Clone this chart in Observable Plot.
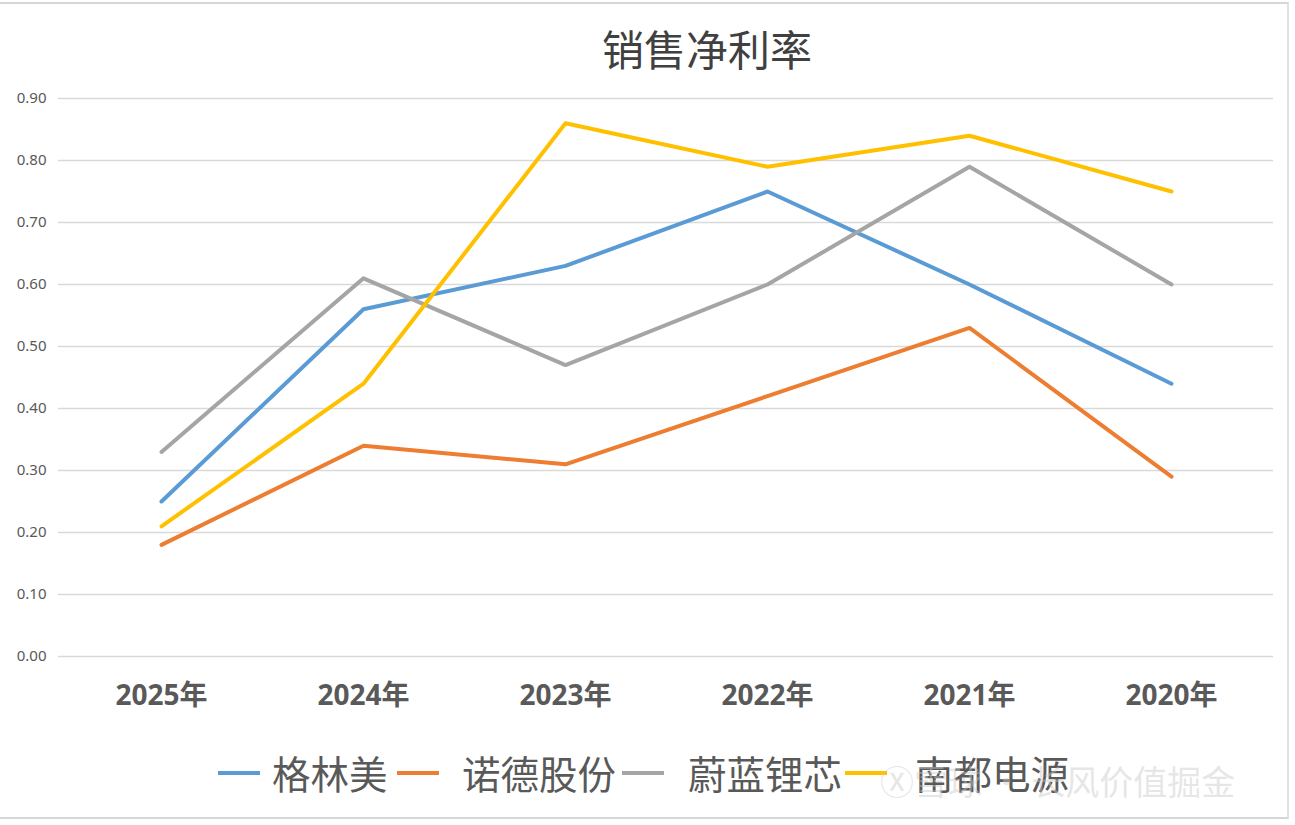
<!DOCTYPE html>
<html>
<head>
<meta charset="utf-8">
<script src="https://cdn.jsdelivr.net/npm/d3@7"></script>
<script src="https://cdn.jsdelivr.net/npm/@observablehq/plot@0.6"></script>
<style>
  html, body { margin: 0; padding: 0; background: #fff; }
  #wrap { position: relative; width: 1295px; height: 825px; overflow: hidden; font-family: "Noto Sans CJK SC", "Noto Sans", sans-serif; }
  #frame { position: absolute; left: 0; top: 2px; width: 1289px; height: 817px; border-top: 2px solid #d6d6d6; border-right: 2px solid #e2e2e2; border-bottom: 2px solid #d6d6d6; box-sizing: border-box; }
  #title { position: absolute; left: 602px; top: 27px; font-size: 42px; line-height: 1; color: #404040; white-space: nowrap; }
  #chart { position: absolute; left: 0; top: 70px; }
  #legend { position: absolute; left: 0; top: 750px; width: 1295px; height: 46px; }
  .sw { position: absolute; top: 21px; width: 42px; height: 4px; }
  .lb { position: absolute; top: 3px; font-size: 38.5px; line-height: 1; color: #595959; white-space: nowrap; }
  #wm { position: absolute; left: 880px; top: 764px; font-size: 34px; line-height: 1; color: rgba(200,200,200,0.45); white-space: nowrap; }
</style>
</head>
<body>
<div id="wrap">
  <div id="frame"></div>
  <div id="title"></div>
  <div id="chart"></div>
  <div id="legend"></div>
  <div id="wm">Ⓧ雪球 · 长风价值掘金</div>
</div>
<script>
const titleText = "销售净利率";
const years = ["2025年", "2024年", "2023年", "2022年", "2021年", "2020年"];
const seriesNames = ["格林美", "诺德股份", "蔚蓝锂芯", "南都电源"];
const seriesColors = ["#5b9bd5", "#ed7d31", "#a5a5a5", "#ffc000"];
const gelinmei = [0.25, 0.56, 0.63, 0.75, 0.60, 0.44];
const nuode = [0.18, 0.34, 0.31, 0.42, 0.53, 0.29];
const weilan = [0.33, 0.61, 0.47, 0.60, 0.79, 0.60];
const nandu = [0.21, 0.44, 0.86, 0.79, 0.84, 0.75];
const yTicks = [0, 0.1, 0.2, 0.3, 0.4, 0.5, 0.6, 0.7, 0.8, 0.9];

// legend layout (pixel offsets of swatch and label)
const legendSwatchX = [218, 397, 622, 845];
const legendLabelX = [272, 462, 688, 915];

const allValues = [gelinmei, nuode, weilan, nandu];
const data = [];
seriesNames.forEach((name, si) => {
  years.forEach((yr, i) => data.push({series: name, year: yr, value: allValues[si][i]}));
});

document.getElementById("title").textContent = titleText;

const chart = Plot.plot({
  width: 1295,
  height: 650,
  marginLeft: 58,
  marginRight: 22,
  marginTop: 28,
  marginBottom: 64,
  style: { fontFamily: "'Noto Sans', 'Noto Sans CJK SC', sans-serif", background: "transparent", overflow: "visible" },
  x: { type: "point", domain: years, padding: 0.5, label: null },
  y: { domain: [0, 0.9], ticks: yTicks, label: null },
  color: { domain: seriesNames, range: seriesColors },
  marks: [
    Plot.ruleY(yTicks, { stroke: "#d9d9d9", strokeWidth: 1.5 }),
    Plot.axisY({ ticks: yTicks, tickSize: 0, tickPadding: 12, tickFormat: d3.format(".2f"), fontSize: 15, fill: "#595959", label: null }),
    Plot.axisX({ tickSize: 0, tickPadding: 29, fontSize: 28, fontWeight: "bold", fill: "#595959", label: null }),
    Plot.line(data, { x: "year", y: "value", z: "series", stroke: "series", strokeWidth: 4, strokeLinejoin: "round", strokeLinecap: "round" })
  ]
});
document.getElementById("chart").appendChild(chart);

const legend = document.getElementById("legend");
seriesNames.forEach((name, i) => {
  const sw = document.createElement("div");
  sw.className = "sw";
  sw.style.background = seriesColors[i];
  sw.style.left = legendSwatchX[i] + "px";
  const lb = document.createElement("div");
  lb.className = "lb";
  lb.style.left = legendLabelX[i] + "px";
  lb.textContent = name;
  legend.appendChild(sw);
  legend.appendChild(lb);
});
</script>
</body>
</html>
